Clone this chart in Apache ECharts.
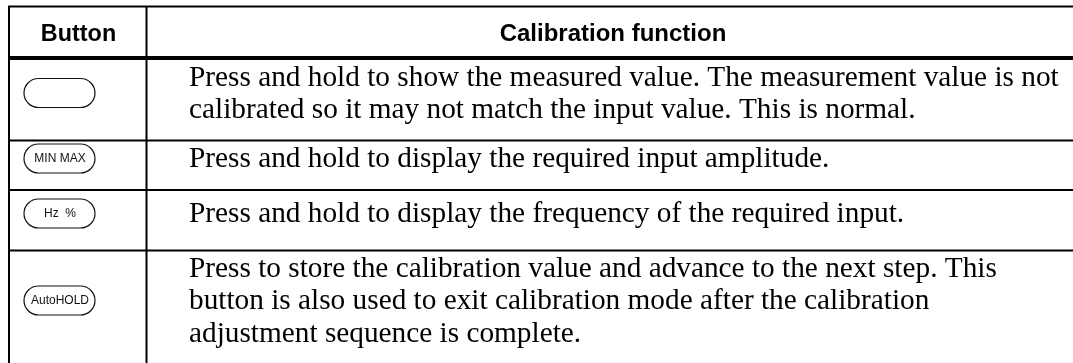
<!DOCTYPE html>
<html><head><meta charset="utf-8">
<style>html,body{margin:0;padding:0;background:#fff}#c{width:1073px;height:363px}</style>
<script src="https://cdn.jsdelivr.net/npm/echarts@6/dist/echarts.min.js"></script>
</head><body><div id="c"></div>
<script>
const headers = ["Button", "Calibration function"];
const buttonLabels = ["", "MIN MAX", "Hz  %", "AutoHOLD"];
const row1Lines = ["Press and hold to show the measured value. The measurement value is not", "calibrated so it may not match the input value. This is normal."];
const row2Lines = ["Press and hold to display the required input amplitude."];
const row3Lines = ["Press and hold to display the frequency of the required input."];
const row4Lines = ["Press to store the calibration value and advance to the next step. This", "button is also used to exit calibration mode after the calibration", "adjustment sequence is complete."];

const rows = [row1Lines, row2Lines, row3Lines, row4Lines];
const firstLineY = [78, 159, 214, 269];
const pillY = [93, 158.5, 213.5, 300.5];
const lineGap = 32.7;
const els = [];
function hline(y, w){ els.push({type:'line',shape:{x1:8,y1:y,x2:1073,y2:y},style:{stroke:'#000',lineWidth:w}}); }
function vline(x){ els.push({type:'line',shape:{x1:x,y1:6,x2:x,y2:363},style:{stroke:'#000',lineWidth:2}}); }
hline(6.5,2); hline(58,4); hline(140.5,2); hline(190,2); hline(250.5,2);
vline(9); vline(146.5);
els.push({type:'text',x:78.5,y:34.5,style:{text:headers[0],font:'bold 23.4px "Liberation Sans"',fill:'#000',align:'center',verticalAlign:'middle'}});
els.push({type:'text',x:613,y:34.5,style:{text:headers[1],font:'bold 24px "Liberation Sans"',fill:'#000',align:'center',verticalAlign:'middle'}});
rows.forEach((lines,i)=>{
  lines.forEach((t,j)=>{
    els.push({type:'text',x:189,y:firstLineY[i]+j*lineGap,style:{text:t,font:'29.3px "Liberation Serif"',fill:'#000',align:'left',verticalAlign:'middle'}});
  });
  els.push({type:'rect',shape:{x:24,y:pillY[i]-14.5,width:71,height:29,r:14.5},style:{fill:'#fff',stroke:'#111',lineWidth:1.2}});
  els.push({type:'text',x:60,y:pillY[i],style:{text:buttonLabels[i],font:'12px "Liberation Sans"',fill:'#111',align:'center',verticalAlign:'middle'}});
});
const chart = echarts.init(document.getElementById('c'),null,{renderer:'canvas'});
chart.setOption({animation:false,backgroundColor:'#fff',graphic:{elements:els}});
</script></body></html>
